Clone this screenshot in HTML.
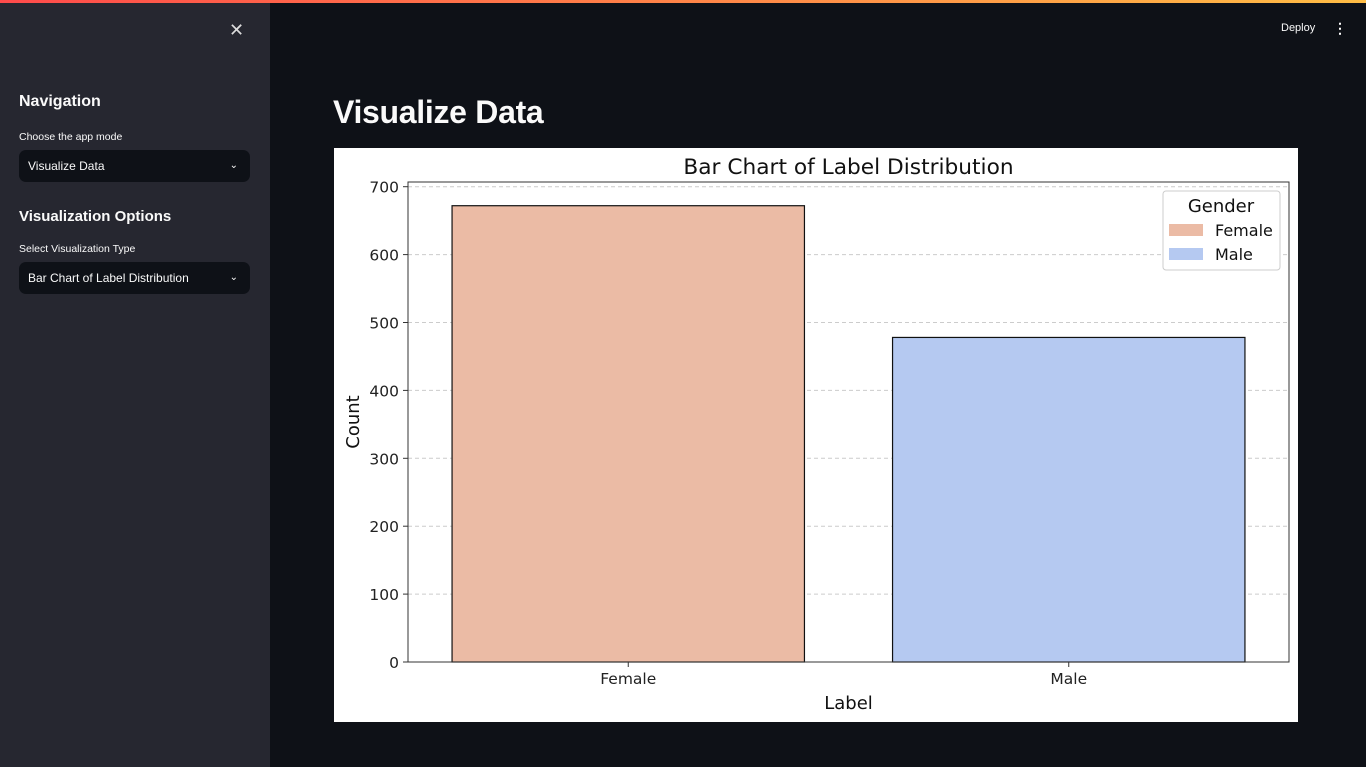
<!DOCTYPE html>
<html><head><meta charset="utf-8"><style>
body{margin:0;width:1366px;height:767px;background:#0e1117;overflow:hidden;font-family:"Liberation Sans",sans-serif;position:relative}
.topbar{position:absolute;left:0;top:0;width:1366px;height:3px;background:linear-gradient(90deg,#ff4b4b,#ffbd45)}
.side{position:absolute;left:0;top:3px;width:270px;height:764px;background:#262730;color:#fafafa}
.close{position:absolute;left:229px;top:17px;font-size:18px;color:#ddd}
.h{position:absolute;left:19px;font-weight:bold;font-size:16px}
.lbl{position:absolute;left:19px;font-size:10.5px;color:#fafafa}
.sel{position:absolute;left:19px;width:231px;height:32px;background:#0e1117;border-radius:7px;font-size:12px;line-height:32px;text-indent:9px;color:#fafafa}
.sel span{position:absolute;right:12px;top:0;font-size:10px}
.title{position:absolute;left:333px;top:94px;color:#fafafa;font-weight:bold;font-size:32px;letter-spacing:-0.3px}
.deploy{position:absolute;left:1281px;top:22px;color:#fafafa;font-size:11px}
.dots{position:absolute;left:1333px;top:20px;color:#fafafa;font-size:14px;font-weight:bold}
svg{position:absolute;left:334px;top:148px;font-family:"DejaVu Sans",sans-serif}
</style></head><body>
<div class="topbar"></div>
<div class="side">
<div class="close">✕</div>
<div class="h" style="top:90px">Navigation</div>
<div class="lbl" style="top:128px">Choose the app mode</div>
<div class="sel" style="top:147px">Visualize Data<span>⌄</span></div>
<div class="h" style="top:205px;font-size:15px">Visualization Options</div>
<div class="lbl" style="top:240px">Select Visualization Type</div>
<div class="sel" style="top:259px">Bar Chart of Label Distribution<span>⌄</span></div>
</div>
<div class="deploy">Deploy</div>
<div class="dots">⋮</div>
<div class="title">Visualize Data</div>
<svg id="chart" width="964" height="574"></svg>
<script>
const categories=["Female","Male"];
const counts=[672,478];
const colors=["#ebbba5","#b5c9f1"];
const yTicks=[0,100,200,300,400,500,600,700];
const NS="http://www.w3.org/2000/svg";
const svg=document.getElementById('chart');
const L=74,R=955,T=34,B=514;
const Y=v=>B-(v/700)*(B-38.7);
const bandW=(R-L)/2;
const X=i=>L+bandW*(i+0.5);
function mk(t,a,txt){const e=document.createElementNS(NS,t);for(const k in a)e.setAttribute(k,a[k]);if(txt!=null)e.textContent=txt;svg.appendChild(e);return e;}
mk('rect',{x:0,y:0,width:964,height:574,fill:'#fff'});
yTicks.forEach(v=>{
 const g=mk('line',{x1:L,x2:R,y1:Y(v),y2:Y(v),stroke:'#ccc','stroke-dasharray':'4,3','stroke-width':1});
 
 
 mk('line',{x1:L-5,x2:L,y1:Y(v),y2:Y(v),stroke:'#333'});
 const t=mk('text',{x:L-9,y:Y(v)+6,'text-anchor':'end','font-size':15.5,fill:'#222'},v);
 
 
});
categories.forEach((c,i)=>{
 const w=bandW*0.8;
 const r=mk('rect',{x:X(i)-w/2,y:Y(counts[i]),width:w,height:B-Y(counts[i]),fill:colors[i],stroke:'#111','stroke-width':1.2});
 
 
 mk('line',{x1:X(i),x2:X(i),y1:B,y2:B+5,stroke:'#333'});
 const t=mk('text',{x:X(i),y:B+22,'text-anchor':'middle','font-size':15.5,fill:'#222'},c);
 
 
});
mk('rect',{x:L,y:T,width:R-L,height:B-T,fill:'none',stroke:'#333','stroke-width':1});
const tt=mk('text',{x:(L+R)/2,y:26,'text-anchor':'middle','font-size':21.7,fill:'#111'},'Bar Chart of Label Distribution');


const xt=mk('text',{x:(L+R)/2,y:561,'text-anchor':'middle','font-size':18,fill:'#111'},'Label');


const yt=mk('text',{x:0,y:0,'text-anchor':'middle','font-size':18,fill:'#111',transform:`translate(25,${(T+B)/2}) rotate(-90)`},'Count');


const lg=mk('rect',{x:829,y:43,width:117,height:79,fill:'#fff',stroke:'#ccc',rx:3});


mk('text',{x:887,y:64,'text-anchor':'middle','font-size':18,fill:'#111'},'Gender');
categories.forEach((c,i)=>{
 const s=mk('rect',{x:835,y:76+i*24,width:34,height:12,fill:colors[i]});
 
 
 const t=mk('text',{x:881,y:88+i*24,'font-size':16,fill:'#111'},c);
 
 
});
</script>
</body></html>
